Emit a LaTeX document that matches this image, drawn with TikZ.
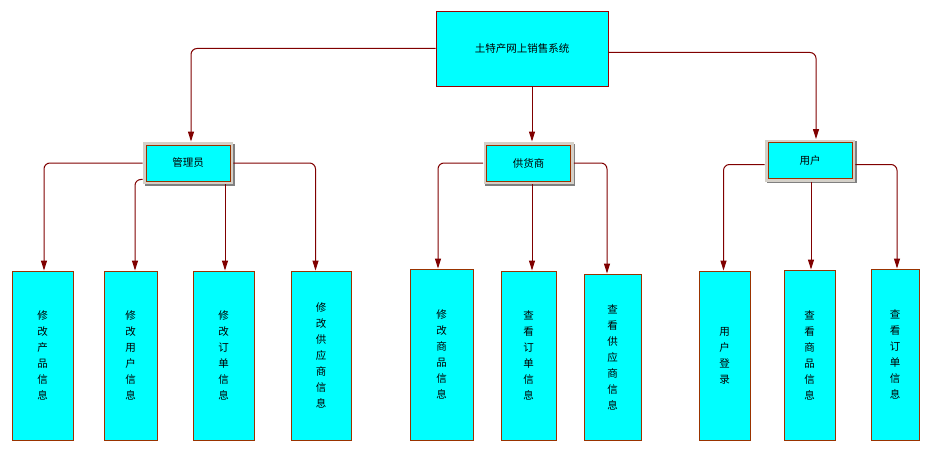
\documentclass[tikz,border=0pt]{standalone}
\usepackage{fontspec}
\setmainfont{Noto Sans CJK SC}
\usepackage{tikz}
\usetikzlibrary{arrows.meta}

\definecolor{boxcyan}{RGB}{0,255,255}
\definecolor{boxedge}{RGB}{153,51,0}
\definecolor{topedge}{RGB}{153,0,0}
\definecolor{linkred}{RGB}{128,0,0}
\definecolor{framegray}{RGB}{212,208,200}
\definecolor{frameshade}{RGB}{128,128,128}

\begin{document}
\begin{tikzpicture}[x=1pt,y=-1pt,
  font=\fontsize{10.5}{16}\selectfont,
  topbox/.style={draw=topedge,fill=boxcyan,line width=0.9pt,inner sep=0pt,
    minimum width=172pt,minimum height=75pt},
  midbox/.style={draw=boxedge,fill=boxcyan,line width=0.9pt,inner sep=0pt,
    minimum width=84pt,minimum height=36pt,
    preaction={draw=frameshade,line width=6pt,
      transform canvas={shift={(1.5pt,-1.5pt)}}},
    preaction={draw=framegray,line width=6pt}},
  leafbox/.style={draw=boxedge,fill=boxcyan,line width=0.9pt,inner sep=0pt,
    align=center},
  link/.style={draw=linkred,line width=1pt,rounded corners=6pt,
    -{Triangle[length=10pt,width=6pt]}},
  fromframe/.style={shorten <=3pt},
  toframe/.style={shorten >=3pt}]
\useasboundingbox (0,0) rectangle (936,452);

\node[topbox] (root) at (522,48.5) {土特产网上销售系统};

\node[midbox] (mgr) at (188,163) {管理员};
\node[midbox] (sup) at (528.5,163) {供货商};
\node[midbox] (usr) at (810,160.5) {用户};

\node[leafbox,minimum width=61pt,minimum height=169pt] (m1) at (42.5,355.5) {修\\改\\产\\品\\信\\息};
\node[leafbox,minimum width=53pt,minimum height=169pt] (m2) at (130.5,355.5) {修\\改\\用\\户\\信\\息};
\node[leafbox,minimum width=61pt,minimum height=169pt] (m3) at (223.5,355.5) {修\\改\\订\\单\\信\\息};
\node[leafbox,minimum width=60pt,minimum height=169pt] (m4) at (321,355.5) {修\\改\\供\\应\\商\\信\\息};

\node[leafbox,minimum width=63pt,minimum height=171pt] (s1) at (441.5,354.5) {修\\改\\商\\品\\信\\息};
\node[leafbox,minimum width=55pt,minimum height=169pt] (s2) at (528.5,355.5) {查\\看\\订\\单\\信\\息};
\node[leafbox,minimum width=57pt,minimum height=166pt] (s3) at (612.5,357) {查\\看\\供\\应\\商\\信\\息};

\node[leafbox,minimum width=51pt,minimum height=169pt] (u1) at (724.5,355.5) {用\\户\\登\\录};
\node[leafbox,minimum width=51pt,minimum height=170pt] (u2) at (809.5,355) {查\\看\\商\\品\\信\\息};
\node[leafbox,minimum width=48pt,minimum height=171pt] (u3) at (895,354.5) {查\\看\\订\\单\\信\\息};

% top level
\draw[link,toframe] (root.west) -| ([xshift=3pt]mgr.north);
\draw[link,toframe] ([xshift=10pt]root.south) -- ([xshift=3.5pt]sup.north);
\draw[link,toframe] ([yshift=-4pt]root.east) -| ([xshift=6pt]usr.north);

% 管理员
\draw[link,fromframe] (mgr.west) -| ([xshift=1.5pt]m1.north);
\draw[link,fromframe] ([yshift=2pt]mgr.south west) -| ([xshift=4.5pt]m2.north);
\draw[link,fromframe] ([xshift=1.5pt]m3.north |- mgr.south) -- ([xshift=1.5pt]m3.north);
\draw[link,fromframe] (mgr.east) -| ([xshift=-5.5pt]m4.north);

% 供货商
\draw[link,fromframe] (sup.west) -| ([xshift=-3.5pt]s1.north);
\draw[link,fromframe] ([xshift=3.5pt]s2.north |- sup.south) -- ([xshift=3.5pt]s2.north);
\draw[link,fromframe] (sup.east) -| ([xshift=-5.5pt]s3.north);

% 用户
\draw[link,fromframe] ([yshift=-4pt]usr.west) -| ([xshift=-1pt]u1.north);
\draw[link,fromframe] ([xshift=1.5pt]u2.north |- usr.south) -- ([xshift=1.5pt]u2.north);
\draw[link,fromframe] ([yshift=-4pt]usr.east) -| ([xshift=2pt]u3.north);
\end{tikzpicture}
\end{document}
